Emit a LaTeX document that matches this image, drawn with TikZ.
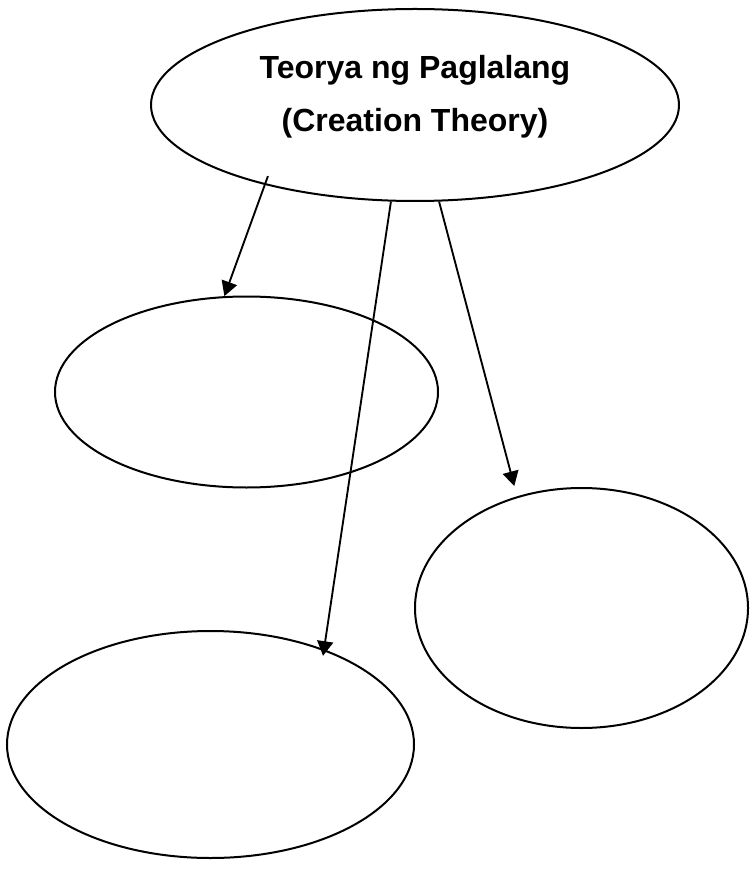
\documentclass[tikz,border=0pt]{standalone}
\usepackage{fontspec}
\setmainfont{Liberation Sans}
\usetikzlibrary{shapes.geometric,arrows.meta}

\begin{document}
\begin{tikzpicture}[x=0.75pt,y=-0.75pt,
  oval/.style={draw, ellipse, line width=1.5pt, inner sep=0pt},
  arr/.style={line width=1.4pt, -{Triangle[length=11pt,width=12pt]}},
  title/.style={anchor=base, font=\fontsize{24}{28}\selectfont\bfseries}]
\useasboundingbox (0,0) rectangle (749,873);
%% Ovals
\node[oval, minimum width=396pt, minimum height=144pt] (theory) at (415,105) {};
\node[oval, minimum width=287.25pt, minimum height=143.25pt] (ovalA) at (246.5,392) {};
\node[oval, minimum width=249.75pt, minimum height=180pt] (ovalB) at (581.5,608) {};
\node[oval, minimum width=305.25pt, minimum height=170.25pt] (ovalC) at (210.5,744.5) {};
%% Title
\node[title] (name) at (415,79) {Teorya ng Paglalang};
\node[title] (name2) at (415,132) {(Creation Theory)};
%% Arrows
\draw[arr, shorten <=-7pt] (theory.208.4) -- (ovalA.103.8);
\draw[arr, shorten >=-5pt] (theory.256) -- (ovalC.40.8);
\draw[arr, shorten >=8pt] (theory.284) -- (ovalB.120);
\end{tikzpicture}
\end{document}
